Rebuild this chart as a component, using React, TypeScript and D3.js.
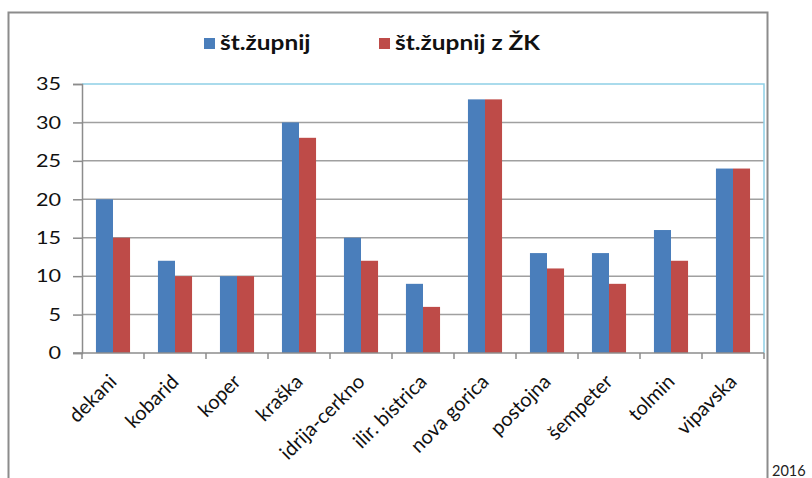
import { useRef, useEffect } from "react";
import * as d3 from "d3";

const categories = [
    "dekani",
    "kobarid",
    "koper",
    "kraška",
    "idrija-cerkno",
    "ilir. bistrica",
    "nova gorica",
    "postojna",
    "šempeter",
    "tolmin",
    "vipavska",
];
const zupnij = [20, 12, 10, 30, 15, 9, 33, 13, 13, 16, 24];
const zupnijZK = [15, 10, 10, 28, 12, 6, 33, 11, 9, 12, 24];
const seriesNames = ["št.župnij", "št.župnij z ŽK"];
const yTicks = [0, 5, 10, 15, 20, 25, 30, 35];

const colors = ["#4a7ebb", "#be4b48"];
const font = "Lato, 'Open Sans', sans-serif";

export default function App() {
    const svgRef = useRef<SVGSVGElement>(null);

    useEffect(() => {
        if (!svgRef.current) return;
        const svg = d3.select(svgRef.current);
        svg.selectAll("*").remove();

        const W = 812;
        const H = 478;
        const margin = { top: 84, right: 48, bottom: 125, left: 82 };
        const width = W - margin.left - margin.right;
        const height = H - margin.top - margin.bottom;

        // outer frame
        svg.append("rect")
            .attr("x", 8.5)
            .attr("y", 12.5)
            .attr("width", 759)
            .attr("height", 520)
            .attr("fill", "#fff")
            .attr("stroke", "#8c8c8c")
            .attr("stroke-width", 2);

        svg.append("text")
            .attr("x", 772)
            .attr("y", 476)
            .attr("font-family", font)
            .attr("font-size", 14.5)
            .attr("fill", "#222")
            .text("2016");

        const x = d3
            .scaleBand()
            .domain(categories)
            .range([0, width])
            .paddingInner(0.45)
            .paddingOuter(0.225);
        const xs = d3.scaleBand().domain(["0", "1"]).range([0, x.bandwidth()]);
        const y = d3.scaleLinear().domain([0, 35]).range([height, 0]);

        const g = svg
            .append("g")
            .attr("transform", `translate(${margin.left},${margin.top})`);

        // gridlines
        g.append("g")
            .selectAll("line")
            .data(yTicks.filter((t) => t > 0 && t < 35))
            .join("line")
            .attr("x1", 0)
            .attr("x2", width)
            .attr("y1", (d) => y(d))
            .attr("y2", (d) => y(d))
            .attr("stroke", "#a0a0a0")
            .attr("stroke-width", 1.5);

        // plot border top/right
        g.append("path")
            .attr("d", `M0,${y(35)}H${width}V${height}`)
            .attr("fill", "none")
            .attr("stroke", "#8fd0e6")
            .attr("stroke-width", 1.5);

        const series = [zupnij, zupnijZK];
        series.forEach((vals, si) => {
            g.append("g")
                .selectAll("rect")
                .data(vals)
                .join("rect")
                .attr("x", (_, i) => x(categories[i])! + xs(String(si))!)
                .attr("y", (d) => y(d))
                .attr("width", xs.bandwidth())
                .attr("height", (d) => height - y(d))
                .attr("fill", colors[si]);
        });

        // y axis
        const yAxis = g
            .append("g")
            .call(d3.axisLeft(y).tickValues(yTicks).tickSize(9).tickPadding(0));
        yAxis.select(".domain").attr("stroke", "#8c8c8c").attr("stroke-width", 1.5);
        yAxis.selectAll(".tick line").attr("stroke", "#8c8c8c").attr("stroke-width", 1.5);
        yAxis
            .selectAll(".tick text")
            .attr("x", null)
            .attr("transform", "translate(-21,0) scale(1.2,1)")
            .attr("font-family", font)
            .attr("font-size", 18)
            .attr("fill", "#111");

        // x axis
        const step = x.step();
        const xAxisG = g.append("g").attr("transform", `translate(0,${height})`);
        xAxisG
            .append("line")
            .attr("x1", -9)
            .attr("x2", width)
            .attr("stroke", "#8c8c8c")
            .attr("stroke-width", 1.5);
        xAxisG
            .selectAll("line.tk")
            .data(d3.range(categories.length + 1))
            .join("line")
            .attr("class", "tk")
            .attr("x1", (i) => i * step)
            .attr("x2", (i) => i * step)
            .attr("y1", 0)
            .attr("y2", 6)
            .attr("stroke", "#8c8c8c")
            .attr("stroke-width", 1.5);
        xAxisG
            .selectAll("text")
            .data(categories)
            .join("text")
            .attr(
                "transform",
                (d) => `translate(${x(d)! + x.bandwidth() / 2},${25}) rotate(-45)`
            )
            .attr("text-anchor", "end")
            .attr("font-family", font)
            .attr("font-size", 20)
            .attr("fill", "#111")
            .attr("dy", "0.35em")
            .text((d) => d);

        // legend
        const legendX = [204, 379];
        seriesNames.forEach((name, i) => {
            const lg = svg.append("g").attr("transform", `translate(${legendX[i]},0)`);
            lg.append("rect")
                .attr("x", 0)
                .attr("y", 38)
                .attr("width", 11)
                .attr("height", 11)
                .attr("fill", colors[i]);
            lg.append("text")
                .attr("transform", "translate(16,50) scale(1.22,1)")
                .attr("font-family", font)
                .attr("font-weight", "bold")
                .attr("font-size", 20)
                .attr("fill", "#111")
                .text(name);
        });
    }, []);

    return (
        <svg
            ref={svgRef}
            width={812}
            height={478}
            style={{ position: "absolute", left: 0, top: 0, display: "block" }}
        />
    );
}
